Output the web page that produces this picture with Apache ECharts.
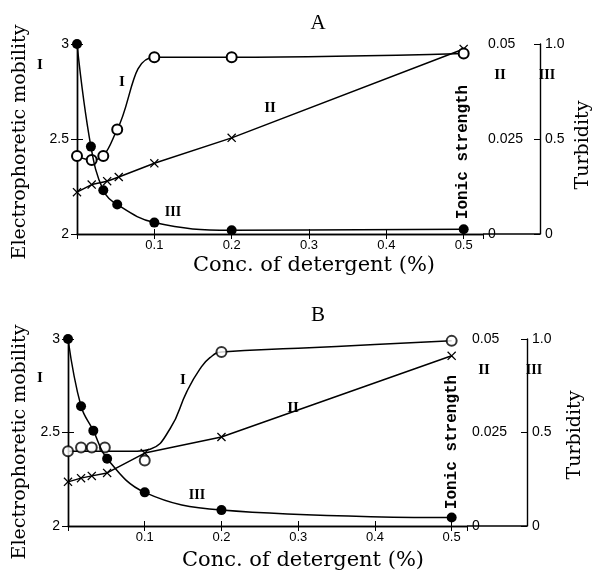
<!DOCTYPE html>
<html><head><meta charset="utf-8">
<script src="https://cdn.jsdelivr.net/npm/echarts@6/dist/echarts.min.js"></script>
<style>html,body{margin:0;padding:0;background:#fff}#c{width:593px;height:577px}</style>
</head><body><div id="c"></div>
<script>
// ---------- Panel A data ----------
const A_conc_I = [0, 0.019, 0.034, 0.052, 0.1, 0.2, 0.5];
const A_mob_I = [2.41, 2.39, 2.41, 2.55, 2.93, 2.93, 2.95];
const A_conc_II = [0, 0.019, 0.039, 0.054, 0.1, 0.2, 0.5];
const A_ionic_II = [0.011, 0.013, 0.0139, 0.015, 0.0186, 0.0253, 0.0487];
const A_conc_III = [0, 0.018, 0.034, 0.052, 0.1, 0.2, 0.5];
const A_turb_III = [1.0, 0.46, 0.23, 0.155, 0.06, 0.02, 0.025];
// ---------- Panel B data ----------
const B_conc_I = [0, 0.017, 0.031, 0.048, 0.1, 0.2, 0.5];
const B_mob_I = [2.40, 2.42, 2.42, 2.42, 2.35, 2.93, 2.99];
const B_curveConc_I = [0, 0.05, 0.09, 0.107, 0.133, 0.155, 0.172, 0.185, 0.2, 0.3, 0.4, 0.5];
const B_curveMob_I = [2.40, 2.40, 2.40, 2.41, 2.52, 2.72, 2.84, 2.90, 2.93, 2.95, 2.97, 2.99];
const B_conc_II = [0, 0.017, 0.031, 0.051, 0.1, 0.2, 0.5];
const B_ionic_II = [0.0118, 0.0128, 0.0134, 0.0142, 0.0195, 0.0238, 0.0455];
const B_conc_III = [0, 0.017, 0.033, 0.051, 0.1, 0.2, 0.5];
const B_turb_III = [1.0, 0.64, 0.51, 0.36, 0.18, 0.085, 0.045];
// ---------- Axis labels ----------
const xTicks = [0.1, 0.2, 0.3, 0.4, 0.5];
const mobLabels = {2: '2', 2.5: '2.5', 3: '3'};
const ionicLabels = {0: '0', 0.025: '0.025', 0.05: '0.05'};
const turbLabels = {0: '0', 0.5: '0.5', 1: '1.0'};
const xName = 'Conc. of detergent (%)';
const yNameLeft = 'Electrophoretic mobility';
const yNameIonic = 'Ionic strength';
const yNameTurb = 'Turbidity';

const zip = (a, b) => a.map((v, i) => [v, b[i]]);
const crossPath = 'path://M0,1L1,0L5,4L9,0L10,1L6,5L10,9L9,10L5,6L1,10L0,9L4,5Z';
const serif = 'Liberation Serif';
const nameFont = 'DejaVu Serif';
const numFont = 'Liberation Sans';

const panels = [
  {title: 'A', left: 77, top: 44, width: 406, height: 190, xmax: 0.525, turbOff: 57,
   I: zip(A_conc_I, A_mob_I), II: zip(A_conc_II, A_ionic_II), III: zip(A_conc_III, A_turb_III), curveI: null,
   labels: {I: [122, 82], II: [270, 108], III: [173, 212]}, romanLeft: [40, 65], ionic: [463, 152],
   xname: [314, 266], yname: [20, 142], tname: [583, 145], titlePos: [318, 23]},
  {title: 'B', left: 68, top: 339, width: 399, height: 187, xmax: 0.52, turbOff: 60,
   I: zip(B_conc_I, B_mob_I), II: zip(B_conc_II, B_ionic_II), III: zip(B_conc_III, B_turb_III),
   curveI: zip(B_curveConc_I, B_curveMob_I),
   labels: {I: [183, 380], II: [293, 408], III: [197, 495]}, romanLeft: [40, 378], ionic: [452, 442],
   xname: [303, 561], yname: [20, 442], tname: [575, 435], titlePos: [318, 315]}
];

const grid = [], xAxis = [], yAxis = [], series = [], graphic = [];
const lineStyle = {color: '#000', width: 1.5};
const openItem = {color: '#000', borderColor: '#000', borderWidth: 1.5};
panels.forEach((p, k) => {
  grid.push({left: p.left, top: p.top, width: p.width, height: p.height, show: false, containLabel: false, outerBoundsMode: 'none'});
  const xBase = {gridIndex: k, type: 'value', min: 0, max: p.xmax, interval: 0.1,
    axisLine: {show: true, lineStyle: {color: '#000', width: 1.4}},
    axisTick: {show: true, inside: true, length: 5, lineStyle: {color: '#000'}},
    splitLine: {show: false}};
  xAxis.push(Object.assign({}, xBase, {position: 'bottom',
    axisLabel: {showMaxLabel: false, margin: 5, fontFamily: numFont, fontSize: 13, color: '#000',
      formatter: v => xTicks.some(t => Math.abs(t - v) < 1e-6) ? v.toFixed(1) : ''}}));
  xAxis.push(Object.assign({}, xBase, {position: 'top', axisLabel: {show: false}}));
  const yBase = {gridIndex: k, type: 'value', splitLine: {show: false},
    axisLine: {show: true, lineStyle: {color: '#000', width: 1.4}},
    axisTick: {show: true, inside: true, length: 6, lineStyle: {color: '#000'}}};
  yAxis.push(Object.assign({}, yBase, {position: 'left', min: 2, max: 3, interval: 0.5,
    axisLabel: {margin: 8, fontFamily: numFont, fontSize: 14, color: '#000', formatter: v => mobLabels[v] ?? ''}}));
  yAxis.push(Object.assign({}, yBase, {position: 'right', min: 0, max: 0.05, interval: 0.025,
    axisLabel: {margin: 5, fontFamily: numFont, fontSize: 14, color: '#000', formatter: v => ionicLabels[+v.toFixed(3)] ?? ''}}));
  yAxis.push(Object.assign({}, yBase, {position: 'right', offset: p.turbOff, min: 0, max: 1, interval: 0.5,
    axisLabel: {margin: 5, fontFamily: numFont, fontSize: 14, color: '#000', formatter: v => turbLabels[v] ?? ''}}));
  const xi = k * 2, yi = k * 3;
  if (p.curveI) {
    series.push({type: 'line', xAxisIndex: xi, yAxisIndex: yi, data: p.curveI, smooth: 0.5, showSymbol: false,
      lineStyle, z: 2, silent: true});
    series.push({type: 'scatter', xAxisIndex: xi, yAxisIndex: yi, data: p.I, symbol: 'emptyCircle', symbolSize: 10,
      itemStyle: openItem, z: 5});
  } else {
    series.push({type: 'line', xAxisIndex: xi, yAxisIndex: yi, data: p.I, smooth: 0.4, symbol: 'emptyCircle', symbolSize: 10,
      lineStyle, itemStyle: openItem, z: 5});
  }
  series.push({type: 'line', xAxisIndex: xi, yAxisIndex: yi + 1, data: p.II, symbol: crossPath, symbolSize: 9,
    lineStyle, itemStyle: {color: '#000'}, z: 4});
  series.push({type: 'line', xAxisIndex: xi, yAxisIndex: yi + 2, data: p.III, smooth: 0.4, symbol: 'circle', symbolSize: 10,
    lineStyle, itemStyle: {color: '#000'}, z: 6});
  // bottom line extending to the turbidity axis
  const bottom = p.top + p.height, right = p.left + p.width;
  graphic.push({type: 'line', shape: {x1: right, y1: bottom, x2: right + p.turbOff, y2: bottom},
    style: {stroke: '#000', lineWidth: 1.4}});
  const txt = (s, pos, font, size, rot, weight) => graphic.push({type: 'text', x: pos[0], y: pos[1], rotation: rot || 0,
    style: {text: s, fill: '#000', font: (weight || 'normal') + ' ' + size + 'px "' + font + '"', textAlign: 'center', textVerticalAlign: 'middle'}});
  txt(p.title, p.titlePos, serif, 21);
  txt(yNameIonic, p.ionic, 'Liberation Mono', 16, Math.PI / 2, 'bold');
  txt(xName, p.xname, nameFont, 21);
  txt(yNameLeft, p.yname, nameFont, 19, Math.PI / 2);
  txt(yNameTurb, p.tname, nameFont, 19, Math.PI / 2);
  txt('I', p.romanLeft, serif, 15, 0, 'bold');
  txt('I', p.labels.I, serif, 15, 0, 'bold');
  txt('II', p.labels.II, serif, 15, 0, 'bold');
  txt('III', p.labels.III, serif, 14, 0, 'bold');
  txt('II', [right + 17, p.top + 31], serif, 15, 0, 'bold');
  txt('III', [right + p.turbOff + 7, p.top + 31], serif, 14, 0, 'bold');
});

const chart = echarts.init(document.getElementById('c'), null, {renderer: 'canvas'});
chart.setOption({animation: false, backgroundColor: '#fff', grid, xAxis, yAxis, series, graphic});
</script></body></html>
